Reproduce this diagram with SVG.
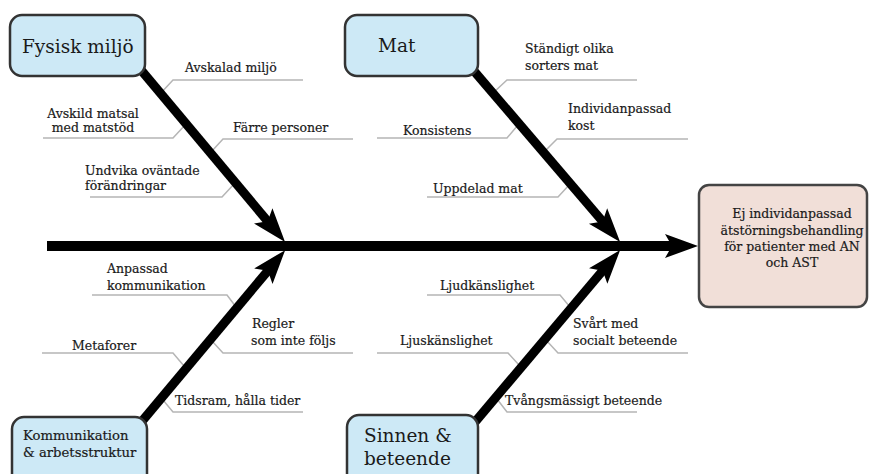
<svg xmlns="http://www.w3.org/2000/svg" width="869" height="474" viewBox="0 0 869 474">
<style>
.cat{fill:#cde9f6;stroke:#333;stroke-width:2.5}
.eff{fill:#f1dfd8;stroke:#444;stroke-width:2.5}
.big{font-family:"DejaVu Serif","Liberation Serif",serif;font-size:18.5px;fill:#1a1a1a}
.mid{font-family:"DejaVu Serif","Liberation Serif",serif;font-size:13.2px;fill:#1a1a1a;stroke:#1a1a1a;stroke-width:0.2}
.lbl{font-family:"DejaVu Serif","Liberation Serif",serif;font-size:12.5px;fill:#1a1a1a;stroke:#1a1a1a;stroke-width:0.2}
.br{fill:none;stroke:#b5b5b5;stroke-width:1.5}
.bone{stroke:#000;stroke-width:9;fill:none}
</style>
<defs>
<marker id="ah" markerUnits="userSpaceOnUse" viewBox="-2 -13 38 26" markerWidth="38" markerHeight="26" refX="9" refY="0" orient="auto">
<path d="M0,-12 L34,0 L0,12 L7,0 z" fill="#000"/>
</marker>
</defs>
<g id="connectors">
<g id="branches">
<polyline class="br" points="160,94 173,80 303,80"/>
<polyline class="br" points="43,138 173,138 186,124"/>
<polyline class="br" points="212,151 223,139 353,139"/>
<polyline class="br" points="90,197 222,197 235,183"/>
<polyline class="br" points="493,93 507,80 637,80"/>
<polyline class="br" points="377,138 507,138 518,125"/>
<polyline class="br" points="545,151 557,139 688,139"/>
<polyline class="br" points="427,197 558,197 570,184"/>
<polyline class="br" points="92,295 227,295 236,307"/>
<polyline class="br" points="42,353 173,353 184,366"/>
<polyline class="br" points="212,341 223,353 353,353"/>
<polyline class="br" points="163,400 173,412 303,412"/>
<polyline class="br" points="427,295 560,295 570,307"/>
<polyline class="br" points="377,353 508,353 519,365"/>
<polyline class="br" points="546,340 558,353 688,353"/>
<polyline class="br" points="497,399 507,412 637,412"/>
</g>
<line x1="47" y1="246" x2="672" y2="246" stroke="#000" stroke-width="10"/>
<polygon points="665,234 698,246 665,258 672,246" fill="#000"/>
<line class="bone" x1="136" y1="64" x2="269" y2="222.8" marker-end="url(#ah)"/>
<line class="bone" x1="468" y1="64" x2="603.9" y2="222.9" marker-end="url(#ah)"/>
<line class="bone" x1="138" y1="426" x2="269.1" y2="269.3" marker-end="url(#ah)"/>
<line class="bone" x1="470" y1="428" x2="604" y2="269.2" marker-end="url(#ah)"/>
</g>
<g id="fysisk">
<rect class="cat" x="10" y="15" width="135" height="61" rx="12"/>
<text class="big" x="22" y="53">Fysisk miljö</text>
</g>
<g id="mat">
<rect class="cat" x="345" y="15" width="133" height="61" rx="12"/>
<text class="big" x="378" y="52">Mat</text>
</g>
<g id="kommunikation">
<rect class="cat" x="12" y="417" width="135" height="70" rx="12"/>
<text class="mid" x="23" y="440">Kommunikation</text>
<text class="mid" x="23" y="457">&amp; arbetsstruktur</text>
</g>
<g id="sinnen">
<rect class="cat" x="347" y="415" width="131" height="72" rx="12"/>
<text class="big" x="364" y="442">Sinnen &amp;</text>
<text class="big" x="364" y="465">beteende</text>
</g>
<g id="effect">
<rect class="eff" x="699" y="185" width="168" height="122" rx="10"/>
<text class="lbl" text-anchor="middle" x="792" y="218">Ej individanpassad</text>
<text class="lbl" text-anchor="middle" x="792" y="235">ätstörningsbehandling</text>
<text class="lbl" text-anchor="middle" x="792" y="251">för patienter med AN</text>
<text class="lbl" text-anchor="middle" x="792" y="267">och AST</text>
</g>
<g id="labels">
<text class="lbl" x="185" y="72">Avskalad miljö</text>
<text class="lbl" text-anchor="middle" x="93" y="118">Avskild matsal</text>
<text class="lbl" text-anchor="middle" x="93" y="132">med matstöd</text>
<text class="lbl" x="233" y="132">Färre personer</text>
<text class="lbl" x="85" y="175">Undvika oväntade</text>
<text class="lbl" x="85" y="190">förändringar</text>
<text class="lbl" x="525" y="53">Ständigt olika</text>
<text class="lbl" x="525" y="70">sorters mat</text>
<text class="lbl" x="403" y="135">Konsistens</text>
<text class="lbl" x="568" y="113">Individanpassad</text>
<text class="lbl" x="568" y="130">kost</text>
<text class="lbl" x="433" y="193">Uppdelad mat</text>
<text class="lbl" x="107" y="273">Anpassad</text>
<text class="lbl" x="107" y="290">kommunikation</text>
<text class="lbl" x="72" y="350">Metaforer</text>
<text class="lbl" x="252" y="328">Regler</text>
<text class="lbl" x="251" y="345">som inte följs</text>
<text class="lbl" x="175" y="405">Tidsram, hålla tider</text>
<text class="lbl" x="440" y="290">Ljudkänslighet</text>
<text class="lbl" x="400" y="345">Ljuskänslighet</text>
<text class="lbl" x="573" y="328">Svårt med</text>
<text class="lbl" x="573" y="345">socialt beteende</text>
<text class="lbl" x="505" y="405">Tvångsmässigt beteende</text>
</g>
</svg>
